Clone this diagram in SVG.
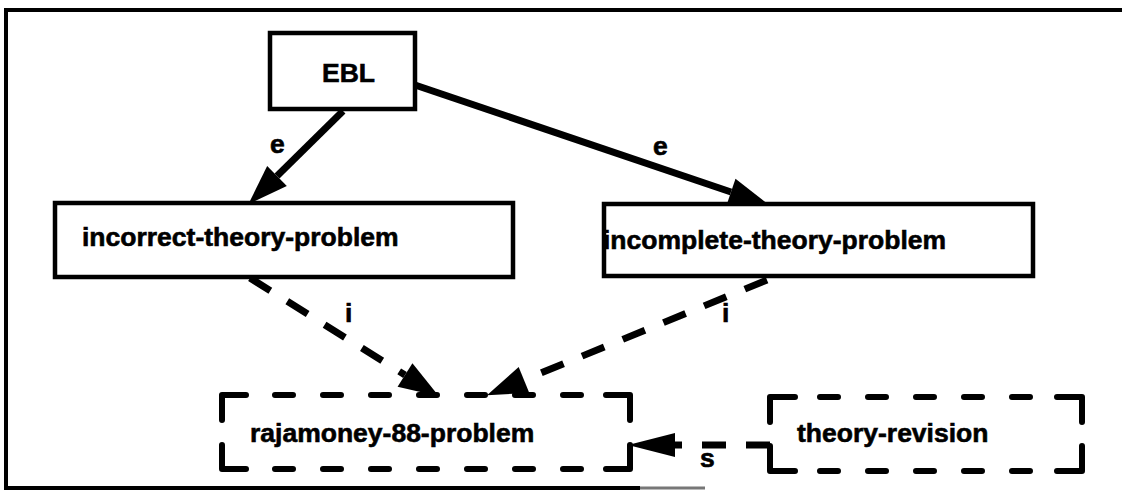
<svg xmlns="http://www.w3.org/2000/svg" width="1122" height="491" viewBox="0 0 1122 491">
  <style>
    .frame { fill: none; stroke: #000; stroke-width: 4; }
    .box { fill: #fff; stroke: #000; stroke-width: 4.5; }
    .corner { fill: none; stroke: #000; stroke-width: 6; stroke-linecap: round; stroke-linejoin: round; }
    .side { fill: none; stroke: #000; stroke-width: 6; stroke-linecap: round; stroke-dasharray: 18 30; }
    .label { font-family: "Liberation Sans", Arial, sans-serif; font-weight: bold; font-size: 26.5px; fill: #000; stroke: #000; stroke-width: 0.6; }
    .edge { fill: none; stroke: #000; stroke-width: 7; }
    .edge-dash { fill: none; stroke: #000; stroke-width: 7; stroke-dasharray: 24 20; }
  </style>
  <defs>
    <marker id="head" viewBox="0 0 40 28" markerWidth="40" markerHeight="28" refX="0" refY="14" orient="auto" markerUnits="userSpaceOnUse" overflow="visible">
      <path d="M0,0 L40,14 L0,28 z" fill="#000"/>
    </marker>
  </defs>

  <!-- outer frame -->
  <g id="frame">
    <path class="frame" d="M1122,10 L6,10 L6,488 L640,488"/>
    <path d="M640,488 L705,488" stroke="#777" stroke-width="3" fill="none"/>
  </g>

  <!-- connectors -->
  <g id="connectors">
    <path class="edge" d="M343,111 L277,176" marker-end="url(#head)"/>
    <path class="edge" d="M415,85 L731,192" marker-end="url(#head)"/>
    <path class="edge-dash" d="M250,278 L405,375" marker-end="url(#head)"/>
    <path class="edge-dash" d="M767,280 L524,380" marker-end="url(#head)"/>
    <path class="edge-dash" d="M770,445 L675,445" stroke-dasharray="23 24"/>
    <path d="M675,433 L628,445 L675,457 z" fill="#000"/>
    <text class="label" x="270" y="153">e</text>
    <text class="label" x="653" y="155">e</text>
    <text class="label" x="345" y="322">i</text>
    <text class="label" x="722" y="322">i</text>
    <text class="label" x="700" y="467">s</text>
  </g>

  <!-- nodes -->
  <g id="node-ebl">
    <rect class="box" x="270" y="33" width="145" height="76"/>
    <text class="label" x="322" y="82">EBL</text>
  </g>

  <g id="node-incorrect">
    <rect class="box" x="55" y="203" width="458" height="74"/>
    <text class="label" x="82" y="246">incorrect-theory-problem</text>
  </g>

  <g id="node-incomplete">
    <rect class="box" x="604" y="204" width="429" height="72"/>
    <text class="label" x="603" y="249">incomplete-theory-problem</text>
  </g>

  <g id="node-rajamoney">
    <path class="corner" d="M222,420 L222,395 L246,395 M606,395 L630,395 L630,420 M630,445 L630,469 L606,469 M246,469 L222,469 L222,445"/>
    <path class="side" d="M275,395 L584,395 M275,469 L584,469"/>
    <text class="label" x="250" y="442">rajamoney-88-problem</text>
  </g>

  <g id="node-theory-revision">
    <path class="corner" d="M770,422 L770,397 L795,397 M1057,397 L1082,397 L1082,422 M1082,446 L1082,471 L1057,471 M795,471 L770,471 L770,446"/>
    <path class="side" d="M820,397 L1033,397 M820,471 L1033,471"/>
    <text class="label" x="797" y="442">theory-revision</text>
  </g>
</svg>
